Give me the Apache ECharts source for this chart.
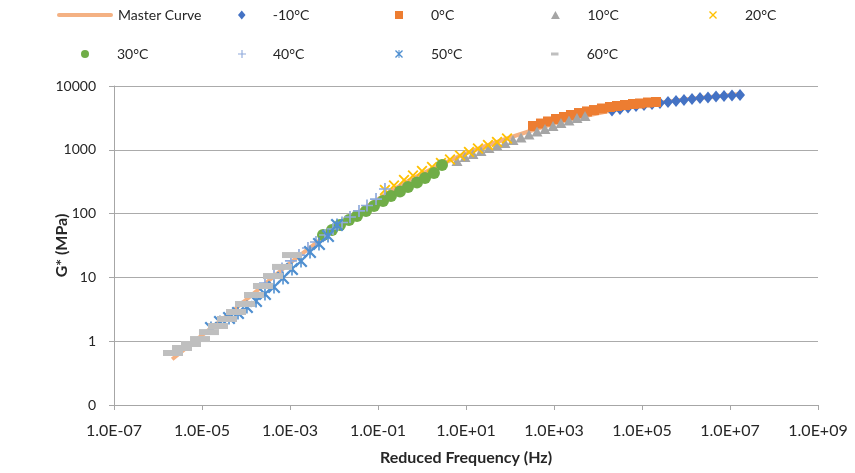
<!DOCTYPE html>
<html>
<head>
<meta charset="utf-8">
<script src="https://cdn.jsdelivr.net/npm/echarts@6/dist/echarts.min.js"></script>
<style>html,body{margin:0;padding:0;background:#fff}#c{width:855px;height:473px}</style>
</head>
<body>
<div id="c"></div>
<script>
// ---------------- data ----------------
const xTicks = [1e-7, 1e-5, 1e-3, 1e-1, 1e1, 1e3, 1e5, 1e7, 1e9];
const yTicks = [0.1, 1, 10, 100, 1000, 10000];

const masterF = [2.1e-6, 8.9e-6, 4.4e-5, 2.1e-4, 1.0e-3, 4.8e-3, 2.3e-2, 0.111, 0.53, 2.57, 12.3, 59, 285, 1370, 6580, 31600, 1.5e5, 7.3e5, 3.5e6, 1.7e7];
const masterG = [0.52, 1.16, 2.77, 6.8, 16.8, 38.5, 85, 176, 336, 578, 925, 1374, 1972, 2730, 3510, 4360, 5220, 6040, 6730, 7490];

const fM10 = [2.08e4, 3.16e4, 4.81e4, 7.31e4, 1.11e5, 1.69e5, 2.56e5, 3.90e5, 5.93e5, 9.0e5, 1.37e6, 2.08e6, 3.16e6, 4.81e6, 7.31e6, 1.11e7, 1.69e7];
const gM10 = [4130, 4360, 4600, 4860, 5040, 5220, 5410, 5610, 5820, 6040, 6250, 6480, 6600, 6850, 6970, 7100, 7230];

const f0 = [333, 507, 731, 1110, 1690, 2430, 3700, 5620, 8110, 12300, 18700, 27000, 41100, 62400, 90100, 136800, 208000];
const g0 = [2360, 2580, 2780, 3040, 3270, 3510, 3770, 3990, 4200, 4440, 4690, 4860, 5040, 5220, 5320, 5510, 5610];

const f10 = [6.24, 9.49, 14.4, 21.9, 33.3, 50.7, 76.9, 117, 178, 270, 411, 624, 949, 1440, 2190, 3330, 5070];
const g10 = [667, 771, 859, 958, 1067, 1168, 1278, 1424, 1559, 1737, 1935, 2117, 2360, 2630, 2880, 3150, 3390];

const f20 = [0.144, 0.231, 0.390, 0.624, 1.0, 1.69, 2.70, 4.33, 7.31, 11.7, 18.7, 31.6, 50.7, 85.5];
const g20 = [234, 276, 336, 395, 465, 538, 621, 705, 814, 924, 1048, 1189, 1325, 1503];

const f30 = [5.62e-3, 9.02e-3, 1.37e-2, 2.19e-2, 3.33e-2, 5.34e-2, 8.11e-2, 0.130, 0.197, 0.316, 0.481, 0.769, 1.17, 1.87, 2.85];
const g30 = [46.2, 55.3, 66.3, 79.4, 91.6, 110, 132, 158, 189, 222, 261, 307, 361, 433, 578];

const f40 = [2.70e-4, 4.33e-4, 6.58e-4, 1.05e-3, 1.60e-3, 2.56e-3, 3.90e-3, 6.24e-3, 9.49e-3, 1.52e-2, 2.31e-2, 3.70e-2, 5.62e-2, 9.02e-2, 0.144];
const g40 = [8.17, 10.9, 13.8, 18.1, 22.4, 28.9, 35.9, 46.2, 57.4, 72.5, 88.5, 110, 134, 169, 243];

const f50 = [1.60e-5, 2.56e-5, 4.11e-5, 6.58e-5, 1.05e-4, 1.69e-4, 2.70e-4, 4.33e-4, 6.94e-4, 1.11e-3, 1.78e-3, 2.85e-3, 4.56e-3, 7.31e-3, 1.17e-2];
const g50 = [1.61, 2.00, 2.31, 2.77, 3.44, 4.27, 5.49, 7.07, 9.79, 13.5, 18.1, 25.0, 33.4, 44.6, 66.3];

const f60 = [2.19e-6, 3.51e-6, 5.62e-6, 9.02e-6, 1.44e-5, 2.31e-5, 3.70e-5, 5.93e-5, 9.49e-5, 1.52e-4, 2.43e-4, 4.11e-4, 6.58e-4, 1.11e-3];
const g60 = [0.653, 0.782, 0.904, 1.08, 1.39, 1.73, 2.23, 2.87, 3.83, 5.30, 7.33, 10.5, 14.6, 22.4];

const seriesNames = ['Master Curve', '-10°C', '0°C', '10°C', '20°C', '30°C', '40°C', '50°C', '60°C'];
const xTitle = 'Reduced Frequency (Hz)';
const yTitle = 'G* (MPa)';

// ---------------- styling ----------------
const FONT = 'Lato, "Open Sans", sans-serif';
const P = {
  diamond: 'path://M5,0L10,6L5,12L0,6Z',
  square: 'path://M0,0L10,0L10,10L0,10Z',
  triangle: 'path://M5,0L10,9L0,9Z',
  circle: 'path://M0,5A5,5,0,1,0,10,5A5,5,0,1,0,0,5Z',
  xmark: 'path://M0,1.2L1.2,0L5,3.8L8.8,0L10,1.2L6.2,5L10,8.8L8.8,10L5,6.2L1.2,10L0,8.8L3.8,5Z',
  plus: 'path://M4.3,0H5.7V4.3H10V5.7H5.7V10H4.3V5.7H0V4.3H4.3Z',
  aster: 'path://M0,1.2L1.2,0L5,3.8L8.8,0L10,1.2L6.2,5L10,8.8L8.8,10L5,6.2L1.2,10L0,8.8L3.8,5Z M4.4,0H5.6V10H4.4Z',
  dash: 'path://M0,0H20V5H0Z',
  bar: 'path://M2,0H54A2,2,0,0,1,54,4H2A2,2,0,0,1,2,0Z'
};

const scatterDefs = [
  { f: fM10, g: gM10, sym: P.diamond, size: [10, 12], color: '#4472C4' },
  { f: f0, g: g0, sym: P.square, size: [10, 10], color: '#ED7D31' },
  { f: f10, g: g10, sym: P.triangle, size: [11, 10], color: '#A5A5A5' },
  { f: f20, g: g20, sym: P.xmark, size: [11, 11], color: '#FFC000' },
  { f: f30, g: g30, sym: P.circle, size: [12, 12], color: '#70AD47' },
  { f: f40, g: g40, sym: P.plus, size: [12, 12], color: '#8FAADC' },
  { f: f50, g: g50, sym: P.aster, size: [13, 13], color: '#4F8FD0' },
  { f: f60, g: g60, sym: P.dash, size: [20, 6], color: '#BFBFBF' }
];

const zip = (a, b) => a.map((v, i) => [v, b[i]]);

const series = [{
  name: seriesNames[0], type: 'line', data: zip(masterF, masterG),
  symbol: 'none', showSymbol: false, smooth: 0.3,
  lineStyle: { color: '#F4B183', width: 4 }, itemStyle: { color: '#F4B183' }, z: 1
}];
scatterDefs.forEach((d, i) => {
  series.push({
    name: seriesNames[i + 1], type: 'scatter', data: zip(d.f, d.g),
    symbol: d.sym, symbolSize: d.size, symbolKeepAspect: false,
    itemStyle: { color: d.color, opacity: 1 }, z: 2
  });
});

// legend layout: [name index, left (visual), rowCentre, itemWidth, itemHeight, icon]
const legendLayout = [
  [0, 57, 16, 56, 4, P.bar],
  [1, 238, 16, 52, 9, P.diamond],
  [2, 395, 16, 54, 8, P.square],
  [3, 551, 16, 54, 8, P.triangle],
  [4, 709, 16, 54, 8, P.xmark],
  [5, 81, 55, 54, 8, P.circle],
  [6, 238, 55, 52, 8, P.plus],
  [7, 395, 55, 54, 8, P.aster],
  [8, 551, 55, 54, 3, 'path://M0,0H20V8H0Z']
];
const legends = legendLayout.map(l => ({
  show: true, left: l[1], top: l[2] - 8, orient: 'horizontal', padding: 0,
  itemWidth: l[3], itemHeight: l[4], itemGap: 5, selectedMode: false,
  textStyle: { fontFamily: FONT, fontSize: 14, color: '#262626' },
  data: [{ name: seriesNames[l[0]], icon: l[5] }]
}));

const fmtX = v => {
  const e = Math.round(Math.log10(v));
  return '1.0E' + (e < 0 ? '-' : '+') + String(Math.abs(e)).padStart(2, '0');
};

const option = {
  animation: false,
  backgroundColor: '#fff',
  legend: legends,
  grid: { left: 114, right: 37, top: 86, bottom: 68, containLabel: false },
  xAxis: {
    type: 'log', logBase: 10, min: xTicks[0], max: xTicks[xTicks.length - 1], interval: 2,
    name: xTitle, nameLocation: 'middle', nameGap: 45, nameMoveOverlap: false,
    nameTextStyle: { fontFamily: FONT, fontSize: 16, fontWeight: 'bold', color: '#262626' },
    axisLine: { show: true, lineStyle: { color: '#A6A6A6', width: 1 } },
    axisTick: { show: true, inside: false, length: 5, lineStyle: { color: '#A6A6A6' } },
    axisLabel: { fontFamily: FONT, fontSize: 16, color: '#262626', margin: 18, formatter: fmtX },
    splitLine: { show: false },
    minorTick: { show: false }
  },
  yAxis: {
    type: 'log', logBase: 10, min: yTicks[0], max: yTicks[yTicks.length - 1],
    name: yTitle, nameLocation: 'middle', nameGap: 44, nameRotate: 90, nameMoveOverlap: false,
    nameTextStyle: { fontFamily: FONT, fontSize: 16, fontWeight: 'bold', color: '#262626' },
    axisLine: { show: true, lineStyle: { color: '#A6A6A6', width: 1 } },
    axisTick: { show: true, inside: false, length: 5, lineStyle: { color: '#A6A6A6' } },
    axisLabel: { fontFamily: FONT, fontSize: 14, color: '#262626', margin: 18,
      formatter: v => (v < 1 ? '0' : String(Math.round(v))) },
    splitLine: { show: true, lineStyle: { color: '#ABABAB', width: 1 } }
  },
  series: series
};

const chart = echarts.init(document.getElementById('c'), null, { renderer: 'canvas' });
chart.setOption(option);
</script>
</body>
</html>
